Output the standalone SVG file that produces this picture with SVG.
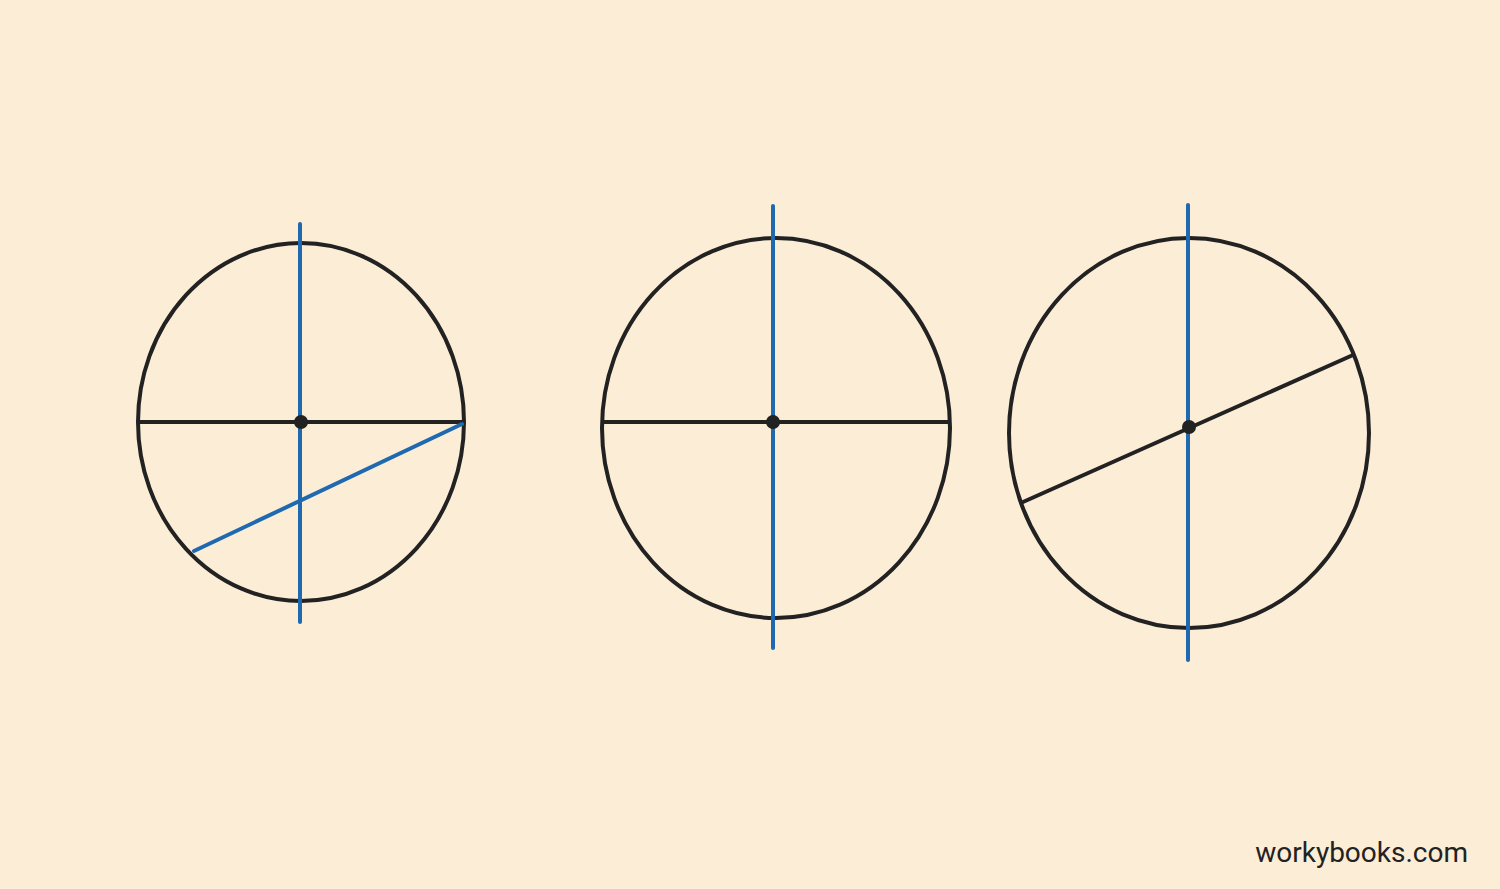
<svg xmlns="http://www.w3.org/2000/svg" width="1500" height="889" viewBox="0 0 1500 889">
<style>
.ring{fill:none;stroke:#222;stroke-width:4}
.bk{stroke:#222;stroke-width:4;stroke-linecap:round}
.bl{stroke:#1f69b1;stroke-width:4;stroke-linecap:round}
.dot{fill:#222}
.wm{font-family:Roboto,"Liberation Sans",sans-serif;font-size:28px;fill:#222}
</style>
<rect width="1500" height="889" fill="#fcedd6"/>
<g id="circle1">
<ellipse class="ring" cx="301" cy="422" rx="163" ry="179"/>
</g>
<g id="circle2">
<ellipse class="ring" cx="776" cy="428" rx="174" ry="190"/>
</g>
<g id="circle3">
<ellipse class="ring" cx="1189" cy="433" rx="180" ry="195"/>
</g>
<g id="connectors">
<line class="bk" x1="140" y1="422" x2="462" y2="422"/>
<line class="bl" x1="300" y1="224" x2="300" y2="622"/>
<line class="bl" x1="194" y1="551" x2="462" y2="424"/>
<line class="bk" x1="603" y1="422" x2="948" y2="422"/>
<line class="bl" x1="773" y1="206" x2="773" y2="648"/>
<line class="bl" x1="1188" y1="205" x2="1188" y2="660"/>
<line class="bk" x1="1023" y1="502" x2="1353" y2="355"/>
</g>
<g id="dots">
<circle class="dot" cx="301" cy="422" r="7"/>
<circle class="dot" cx="773" cy="422" r="7"/>
<circle class="dot" cx="1189" cy="427" r="7"/>
</g>
<text class="wm" x="1468" y="862" text-anchor="end">workybooks.com</text>
</svg>
